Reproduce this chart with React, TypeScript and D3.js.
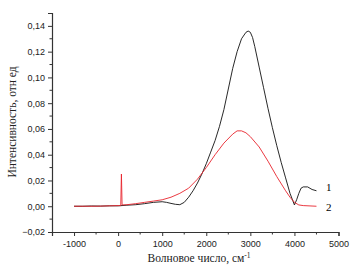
import React, { useEffect, useRef } from "react";
import * as d3 from "d3";

// curve 1 (black)
const waveBlack = [-1000, -800, -600, -400, -200, 0, 200, 400, 600, 800, 1000, 1100, 1200, 1300, 1400, 1500, 1600, 1700, 1800, 1900, 2000, 2100, 2200, 2300, 2400, 2500, 2600, 2700, 2800, 2900, 2950, 3000, 3050, 3100, 3200, 3300, 3400, 3500, 3600, 3700, 3800, 3900, 4000, 4050, 4100, 4150, 4200, 4300, 4400, 4500];
const intBlack = [0.0, 0.0, 0.0002, 0.0001, 0.0003, 0.0003, 0.0008, 0.0012, 0.002, 0.003, 0.0035, 0.003, 0.0022, 0.0015, 0.0012, 0.003, 0.007, 0.012, 0.018, 0.025, 0.033, 0.042, 0.051, 0.062, 0.075, 0.091, 0.107, 0.12, 0.13, 0.135, 0.136, 0.135, 0.131, 0.124, 0.108, 0.092, 0.076, 0.061, 0.047, 0.034, 0.022, 0.01, 0.001, 0.005, 0.01, 0.014, 0.015, 0.015, 0.013, 0.012];

// curve 2 (red)
const waveRed = [-1000, -500, 0, 60, 75, 90, 200, 400, 600, 800, 1000, 1200, 1400, 1600, 1800, 2000, 2200, 2400, 2600, 2700, 2800, 2900, 3000, 3200, 3400, 3600, 3800, 3900, 4000, 4100, 4200, 4500];
const intRed = [0.0, 0.0, 0.0005, 0.0005, 0.025, 0.001, 0.0012, 0.002, 0.003, 0.004, 0.005, 0.007, 0.01, 0.014, 0.021, 0.03, 0.04, 0.049, 0.056, 0.0585, 0.0585, 0.057, 0.054, 0.046, 0.035, 0.023, 0.012, 0.007, 0.003, 0.001, 0.0005, 0.0];

const xTicks = [-1000, 0, 1000, 2000, 3000, 4000, 5000];
const yTicks = [-0.02, 0, 0.02, 0.04, 0.06, 0.08, 0.1, 0.12, 0.14];

const App = () => {
  const ref = useRef<SVGSVGElement>(null);

  useEffect(() => {
    const svg = d3.select(ref.current);
    svg.selectAll("*").remove();

    const x = d3.scaleLinear().domain([-1500, 5000]).range([52, 338.5]);
    const y = d3.scaleLinear().domain([-0.02, 0.15]).range([232, 13]);

    const sans = "Arial, 'Liberation Sans', sans-serif";
    const serif = "'Times New Roman', 'Liberation Serif', serif";

    // x axis
    const xAxis = d3
      .axisBottom(x)
      .tickValues(xTicks)
      .tickSize(4)
      .tickFormat((d) => String(d));
    const gx = svg.append("g").attr("transform", `translate(0,232)`).call(xAxis);
    gx.select(".domain").attr("stroke", "#333").attr("stroke-width", 1.2);
    gx.selectAll(".tick line").attr("stroke", "#333");
    gx.selectAll(".tick text")
      .attr("font-family", sans)
      .attr("font-size", 9)
      .attr("fill", "#222")
      .attr("dy", "0.85em");
    svg
      .append("g")
      .selectAll("line")
      .data(d3.range(-500, 5000, 1000))
      .join("line")
      .attr("x1", (d) => x(d))
      .attr("x2", (d) => x(d))
      .attr("y1", 232)
      .attr("y2", 234.5)
      .attr("stroke", "#333");

    // y axis
    const yAxis = d3
      .axisLeft(y)
      .tickValues(yTicks)
      .tickSize(4)
      .tickFormat((d) => d3.format(".2f")(d as number).replace(".", ","));
    const gy = svg.append("g").attr("transform", `translate(52,0)`).call(yAxis);
    gy.select(".domain").attr("stroke", "#333").attr("stroke-width", 1.2);
    gy.selectAll(".tick line").attr("stroke", "#333");
    gy.selectAll(".tick text")
      .attr("font-family", sans)
      .attr("font-size", 9)
      .attr("fill", "#222")
      .attr("x", -7);
    svg
      .append("g")
      .selectAll("line")
      .data(d3.range(-0.01, 0.15, 0.02))
      .join("line")
      .attr("x1", 52)
      .attr("x2", 49.5)
      .attr("y1", (d) => y(d))
      .attr("y2", (d) => y(d))
      .attr("stroke", "#333");

    const line = d3
      .line<[number, number]>()
      .x((d) => x(d[0]))
      .y((d) => y(d[1]));

    const blackData = waveBlack.map((w, i) => [w, intBlack[i]] as [number, number]);
    const redData = waveRed.map((w, i) => [w, intRed[i]] as [number, number]);

    svg
      .append("path")
      .attr("d", line(blackData))
      .attr("fill", "none")
      .attr("stroke", "#111")
      .attr("stroke-width", 0.9);

    svg
      .append("path")
      .attr("d", line(redData))
      .attr("fill", "none")
      .attr("stroke", "#e8242c")
      .attr("stroke-width", 0.9);

    // curve labels
    svg
      .append("text")
      .attr("x", 326)
      .attr("y", 191)
      .attr("font-family", serif)
      .attr("font-size", 11)
      .text("1");
    svg
      .append("text")
      .attr("x", 326)
      .attr("y", 211)
      .attr("font-family", serif)
      .attr("font-size", 11)
      .text("2");

    // axis titles
    const xt = svg
      .append("text")
      .attr("x", 199)
      .attr("y", 262)
      .attr("text-anchor", "middle")
      .attr("font-family", serif)
      .attr("font-size", 11.5)
      .attr("fill", "#222");
    xt.append("tspan").text("Волновое число, см");
    xt.append("tspan").attr("dy", -4).attr("font-size", 7.5).text("-1");

    svg
      .append("text")
      .attr("transform", `translate(16,122) rotate(-90)`)
      .attr("text-anchor", "middle")
      .attr("font-family", serif)
      .attr("font-size", 11.5)
      .attr("fill", "#222")
      .text("Интенсивность, отн ед");
  }, []);

  return (
    <svg
      ref={ref}
      width={361}
      height={271}
      style={{ position: "absolute", left: 0, top: 0, background: "#fff" }}
    />
  );
};

export default App;
